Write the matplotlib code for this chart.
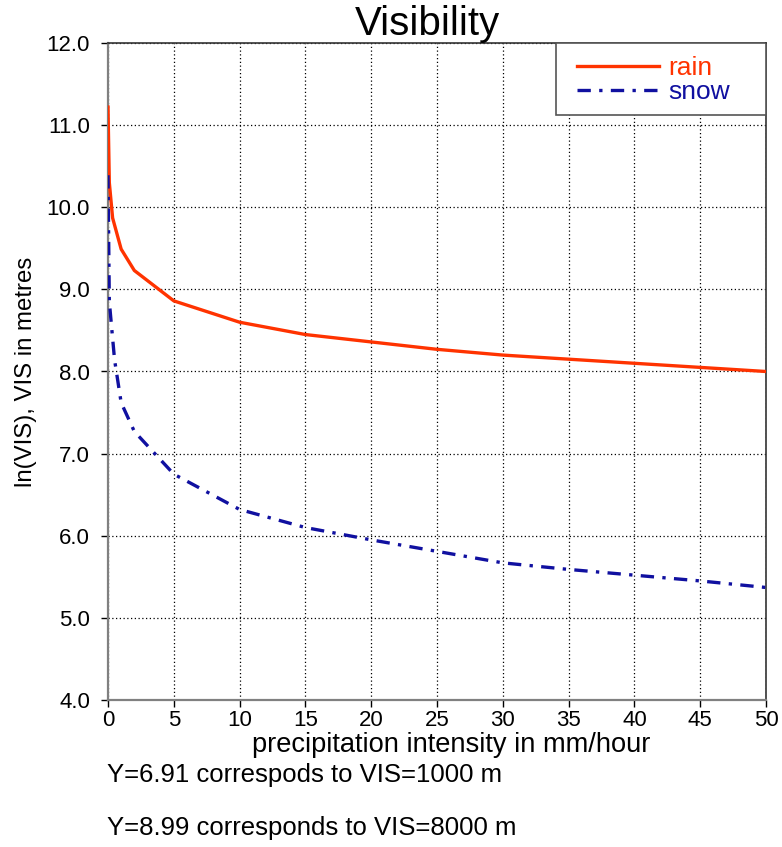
import matplotlib
matplotlib.use("Agg")
import matplotlib.pyplot as plt
from matplotlib.patches import Rectangle

plt.rcParams["font.family"] = ["Liberation Sans", "DejaVu Sans"]

# precipitation intensity (mm/hour)
rain_x = [0, 0.1, 0.35, 1, 2, 5, 10, 15, 20, 25, 30, 35, 40, 45, 50]
rain_y = [11.22, 10.3, 9.87, 9.49, 9.23, 8.86, 8.60, 8.45, 8.36, 8.27, 8.20, 8.15, 8.10, 8.05, 8.00]

snow_x = [0, 0.1, 0.5, 1, 2, 5, 10, 15, 20, 25, 30, 35, 40, 45, 50]
snow_y = [10.39, 8.85, 8.14, 7.62, 7.27, 6.75, 6.32, 6.10, 5.95, 5.81, 5.67, 5.59, 5.52, 5.45, 5.37]

x_ticks = list(range(0, 51, 5))
y_ticks = [4, 5, 6, 7, 8, 9, 10, 11, 12]
notes = ["Y=6.91 correspods to VIS=1000 m", "Y=8.99 corresponds to VIS=8000 m"]

fig = plt.figure(figsize=(7.82, 8.47), dpi=100)
ax = fig.add_axes([108 / 782, 147 / 847, 658 / 782, 657 / 847])

ax.plot(rain_x, rain_y, color="#ff3300", lw=2.4, label="rain", zorder=3)
ax.plot(snow_x, snow_y, color="#1010a0", lw=2.4, ls=(0, (4, 2.5, 1, 2.5)), label="snow", zorder=3)

ax.set_xlim(0, 50)
ax.set_ylim(4, 12)
ax.set_xticks(x_ticks)
ax.set_yticks(y_ticks)
ax.set_yticklabels([f"{v:.1f}" for v in y_ticks])
ax.tick_params(labelsize=16, length=5, width=1, direction="out")
ax.tick_params(axis="y", pad=8)
ax.tick_params(axis="x", pad=2)
ax.grid(True, color="black", ls=(0, (1, 2)), lw=0.9)

for side in ("left", "bottom"):
    ax.spines[side].set_color("#808080")
    ax.spines[side].set_linewidth(1.6)
for side in ("top", "right"):
    ax.spines[side].set_color("#333333")
    ax.spines[side].set_linewidth(1.2)

ax.set_title("Visibility", fontsize=29, pad=2, x=0.485)
ax.set_xlabel("precipitation intensity in mm/hour", fontsize=19.6, labelpad=1, x=0.521)
ax.set_ylabel("ln(VIS), VIS in metres", fontsize=17.3, labelpad=7)

# legend: text only inside a wider hand-drawn box
leg = ax.legend(loc="upper right", bbox_to_anchor=(0.965, 1.0), fontsize=19,
                frameon=False, borderaxespad=0, handlelength=3.1,
                handletextpad=0.35, labelspacing=0.0, borderpad=0.5)
for txt, line in zip(leg.get_texts(), leg.get_lines()):
    txt.set_color(line.get_color())
box_x0 = (556 - 108) / 658
box_y0 = (700 - 115) / 657
ax.add_patch(Rectangle((box_x0, box_y0), 1 - box_x0, 1 - box_y0, transform=ax.transAxes,
                       facecolor="white", edgecolor="#555555", lw=1.2, zorder=4))
leg.set_zorder(5)

fig.text(107 / 782, 1 - 775 / 847, notes[0], fontsize=18.5, va="center")
fig.text(107 / 782, 1 - 828 / 847, notes[1], fontsize=18.5, va="center")

fig.savefig("out.png", dpi=100)
